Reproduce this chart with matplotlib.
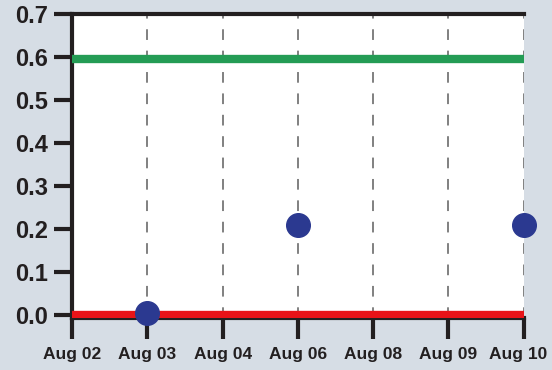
import matplotlib
matplotlib.use("Agg")
import matplotlib.pyplot as plt
from matplotlib.transforms import ScaledTranslation

# Data
dates = ["Aug 02", "Aug 03", "Aug 04", "Aug 06", "Aug 08", "Aug 09", "Aug 10"]
point_dates = ["Aug 03", "Aug 06", "Aug 10"]
point_values = [0.005, 0.21, 0.21]
upper_limit = 0.595
lower_limit = 0.0
y_ticks = [0.0, 0.1, 0.2, 0.3, 0.4, 0.5, 0.6, 0.7]

plt.rcParams['font.family'] = ['Liberation Sans', 'DejaVu Sans']

bg = "#d6dde5"
fig = plt.figure(figsize=(5.52, 3.70), dpi=100, facecolor=bg)
ax = fig.add_axes([0.1304, 0.1405, 0.8185, 0.8215])
ax.set_facecolor("white")

x = list(range(len(dates)))
pos = {d: i for i, d in enumerate(dates)}

# Reference lines
ax.plot([x[0], x[-1]], [upper_limit, upper_limit], color="#249c55", lw=6,
        solid_capstyle="butt", zorder=3)
ax.plot([x[0], x[-1]], [lower_limit, lower_limit], color="#e81318", lw=6,
        solid_capstyle="butt", zorder=3)

# Measurements
ax.plot([pos[d] for d in point_dates], point_values, "o", color="#2b3990",
        markersize=17, clip_on=False, zorder=5)

# Dashed verticals at each date
for xi in x[1:]:
    ax.axvline(xi, color="#808080", lw=1.4, ls=(0, (5.5, 5.5)), zorder=1)

ax.set_xlim(x[0], x[-1])
ax.set_ylim(-0.007, 0.7)
ax.set_xticks(x)
ax.set_xticklabels(dates)
ax.set_yticks(y_ticks)
ax.set_yticklabels([f"{v:.1f}" for v in y_ticks])

for s in ["left", "bottom", "top"]:
    ax.spines[s].set_linewidth(3)
    ax.spines[s].set_color("#231f20")
ax.spines["right"].set_visible(False)

ax.tick_params(axis="x", length=15, width=3, color="#231f20", pad=6,
               labelsize=12.5)
ax.tick_params(axis="y", length=13, width=3, color="#231f20", pad=4,
               labelsize=17)
for lab in ax.get_xticklabels() + ax.get_yticklabels():
    lab.set_fontweight("bold")
    lab.set_color("#231f20")
# nudge the last date label a few pixels left so it stays inside the figure
last = ax.get_xticklabels()[-1]
last.set_transform(last.get_transform() +
                   ScaledTranslation(-4 / 72, 0, fig.dpi_scale_trans))

fig.savefig("out.png", dpi=100, facecolor=bg)
